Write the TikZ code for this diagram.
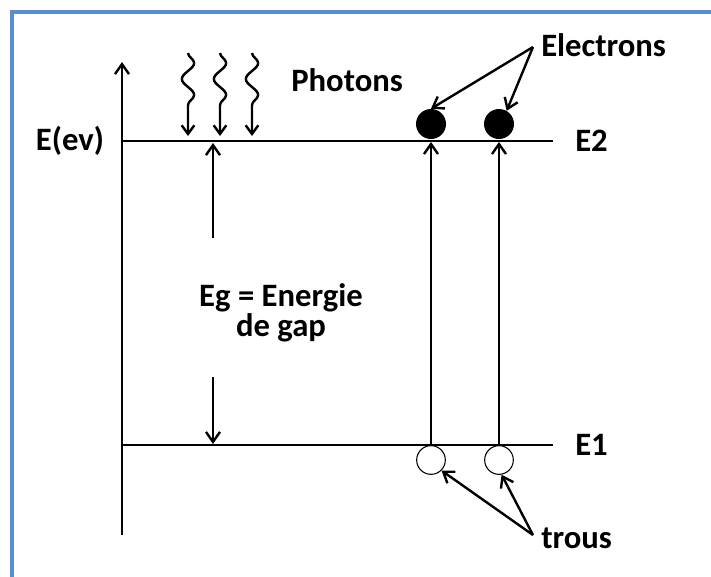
\documentclass[tikz,border=0pt]{standalone}
\usepackage{fontspec}
\setmainfont{Carlito}
\usetikzlibrary{arrows.meta,decorations.pathmorphing}
\definecolor{frameBlue}{RGB}{85,142,213}
\newcommand{\gapLabelFont}{\fontsize{24.5pt}{22.5pt}\selectfont\bfseries}

\begin{document}
\begin{tikzpicture}[x=0.75pt,y=-0.75pt,
  lbl/.style={inner sep=0pt, font=\gapLabelFont},
  level/.style={line width=1.8pt},
  tip/.style={line width=1.8pt, -{Straight Barb[length=7.5pt,width=10.5pt]}},
  photon/.style={line width=1.8pt, decorate,
    decoration={snake, amplitude=4.6pt, segment length=24pt, post length=13pt},
    -{Straight Barb[length=6.5pt,width=9.5pt]}},
  electron/.style={circle, fill=black, inner sep=0pt, minimum size=22.5pt},
  hole/.style={circle, draw, fill=white, line width=0.8pt, inner sep=0pt, minimum size=21.5pt}]
\useasboundingbox (0,0) rectangle (711,576);
\draw[frameBlue, line width=3pt] (12,600) -- (12,12) -- (730,12);
\coordinate (axB) at (122,535);
\coordinate (axT) at (122,62);
\coordinate (e2L) at (122,141);
\coordinate (e2R) at (553,141);
\coordinate (e1L) at (122,445);
\coordinate (e1R) at (553,445);
\draw[tip] (axB) -- (axT);
\draw[level] (e2L) -- (e2R);
\draw[level] (e1L) -- (e1R);
\node[lbl] (eAxis) at (70,141) {E(ev)};
\node[lbl, anchor=west] (eTwo) at (575,141) {E2};
\node[lbl, anchor=west] (eOne) at (575,445) {E1};
% photons
\foreach \px [count=\i] in {188,220,252} {
  \coordinate (ph\i-t) at (\px,53);
  \coordinate (ph\i-b) at (\px,136);
  \draw[photon] (ph\i-t) -- (ph\i-b);
}
\node[lbl, anchor=west] (photons) at (291,80) {Photons};
% gap
\node[lbl, align=center] (gap) at (281,313) {Eg = Energie\\de gap};
\coordinate (gapUpFrom) at (213,238);
\coordinate (gapUpTo) at (213,143);
\coordinate (gapDownFrom) at (213,377);
\coordinate (gapDownTo) at (213,444);
\draw[tip] (gapUpFrom) -- (gapUpTo);
\draw[tip] (gapDownFrom) -- (gapDownTo);
% electrons and holes
\node[electron] (el1) at (431,124) {};
\node[electron] (el2) at (499,124) {};
\node[hole] (h1) at (431,460) {};
\node[hole] (h2) at (499,460) {};
\draw[tip, shorten >=2pt] (h1.north) -- (el1.south);
\draw[tip, shorten >=2pt] (h2.north) -- (el2.south);
\coordinate (eApex) at (533,47);
\coordinate (tApex) at (533,535);
\node[lbl, anchor=west] (electrons) at (541,45) {Electrons};
\node[lbl, anchor=west] (trous) at (541,538) {trous};
\draw[tip] (eApex) -- (el1.north);
\draw[tip] (eApex) -- (el2.60);
\draw[tip] (tApex) -- (h1.south east);
\draw[tip] (tApex) -- (h2.-80);
\end{tikzpicture}
\end{document}
